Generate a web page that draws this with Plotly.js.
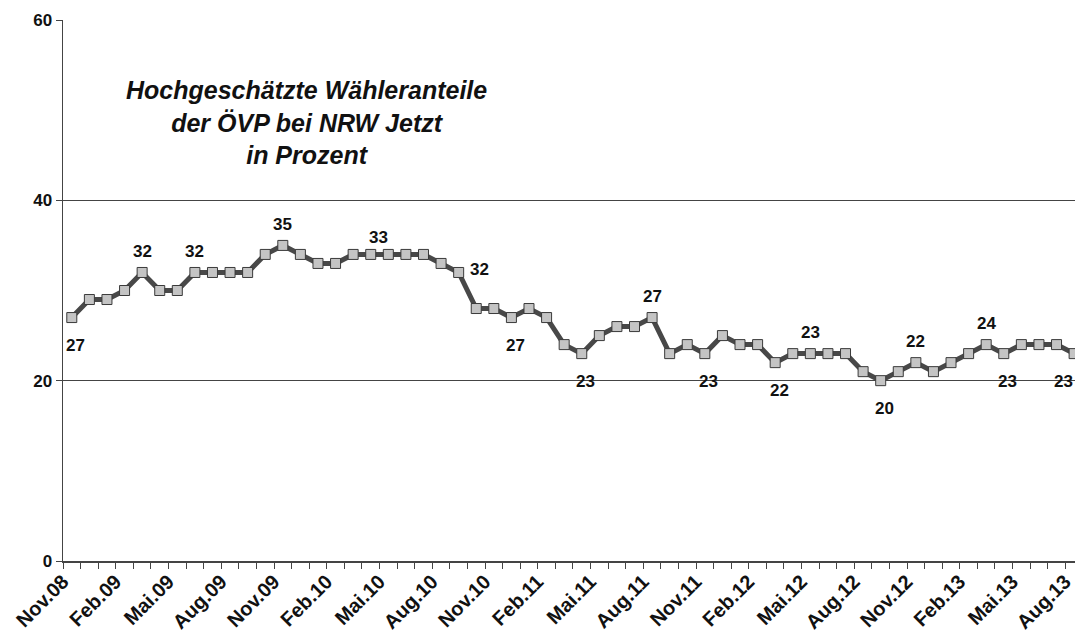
<!DOCTYPE html>
<html>
<head>
<meta charset="utf-8">
<script src="https://cdn.plot.ly/plotly-3.0.1.min.js"></script>
<style>
  html, body { margin: 0; padding: 0; background: #fff; }
  #chart { width: 1075px; height: 644px; }
</style>
</head>
<body>
<div id="chart"></div>
<script>
// monthly values, Nov.08 .. Aug.13
const shares = [27, 29, 29, 30, 32, 30, 30, 32, 32, 32, 32, 34, 35, 34, 33, 33, 34, 34, 34, 34,
                34, 33, 32, 28, 28, 27, 28, 27, 24, 23, 25, 26, 26, 27, 23, 24, 23, 25, 24, 24,
                22, 23, 23, 23, 23, 21, 20, 21, 22, 21, 22, 23, 24, 23, 24, 24, 24, 23];
const months = shares.map((v, i) => i);

// labels every third month
const tickLabels = ["Nov.08", "Feb.09", "Mai.09", "Aug.09", "Nov.09", "Feb.10", "Mai.10", "Aug.10",
                    "Nov.10", "Feb.11", "Mai.11", "Aug.11", "Nov.11", "Feb.12", "Mai.12", "Aug.12",
                    "Nov.12", "Feb.13", "Mai.13", "Aug.13"];
const tickPos = tickLabels.map((t, i) => i * 3);

// value labels written next to some points
const labelIdx  = [0, 4, 7, 12, 17, 22, 25, 29, 33, 36, 40, 42, 46, 48, 52, 53, 57];
const labelText = ["27", "32", "32", "35", "33", "32", "27", "23", "27", "23", "22", "23", "20", "22", "24", "23", "23"];
const labelSide = ["below", "above", "above", "above", "above", "right", "below", "below", "above",
                   "below", "below", "above", "below", "above", "above", "below", "below"];

const fam = "Liberation Sans, Arial, sans-serif";
const lblFont = {family: fam, size: 17, color: "#111", weight: 700};

const annotations = labelIdx.map((idx, k) => {
    const side = labelSide[k];
    let xshift = 0, yshift = 0;
    if (side === "above") yshift = 21;
    if (side === "below") { yshift = -28; xshift = 4; }
    if (side === "right") { xshift = 21; yshift = 3; }
    if (idx === 17) { xshift = 8; yshift = 17; }
    if (idx === 57) xshift = -11;
    return {
        x: idx, y: shares[idx], xref: "x", yref: "y",
        text: labelText[k], showarrow: false,
        xshift: xshift, yshift: yshift, font: lblFont
    };
});

annotations.push({
    xref: "paper", yref: "paper", x: 0.241, y: 0.9, xanchor: "center", yanchor: "top",
    text: "Hochgeschätzte Wähleranteile<br>der ÖVP bei NRW Jetzt<br>in Prozent",
    showarrow: false, align: "center",
    font: {family: fam, size: 25, color: "#111", weight: 700, style: "italic"}
});

const trace = {
    x: months,
    y: shares,
    type: "scatter",
    mode: "lines+markers",
    cliponaxis: false,
    line: {color: "#484848", width: 5},
    marker: {symbol: "square", size: 10, color: "#c4c4c4", line: {color: "#3a3a3a", width: 1}},
    hoverinfo: "skip"
};

// invisible helper trace so the label axis gets drawn
const labelTrace = {
    x: tickPos, y: tickPos.map(() => null), xaxis: "x2", yaxis: "y",
    type: "scatter", mode: "markers", hoverinfo: "skip", showlegend: false
};

const xRange = [-0.5, 57.05];

const layout = {
    width: 1075,
    height: 644,
    margin: {l: 63, r: 0, t: 20, b: 83},
    paper_bgcolor: "#fff",
    plot_bgcolor: "#fff",
    showlegend: false,
    xaxis: {
        range: xRange,
        tickmode: "linear",
        tick0: -0.5,
        dtick: 1,
        ticks: "outside",
        ticklen: 6,
        tickcolor: "#444",
        showticklabels: false,
        showgrid: false,
        zeroline: false,
        showline: true,
        linecolor: "#444",
        linewidth: 1.5
    },
    xaxis2: {
        overlaying: "x",
        anchor: "y",
        side: "bottom",
        range: xRange,
        tickvals: tickPos,
        ticktext: tickLabels,
        tickangle: -45,
        ticks: "",
        ticklabelshift: -9,
        ticklabelstandoff: 4,
        ticklabeloverflow: "allow",
        tickfont: {family: fam, size: 20, color: "#111", weight: 700},
        showgrid: false,
        zeroline: false,
        showline: false
    },
    yaxis: {
        range: [0, 60],
        tickvals: [0, 20, 40, 60],
        ticks: "outside",
        ticklen: 6,
        tickcolor: "#444",
        tickfont: {family: fam, size: 17, color: "#111", weight: 700},
        showgrid: true,
        gridcolor: "#444",
        gridwidth: 1,
        zeroline: false,
        showline: true,
        linecolor: "#444",
        linewidth: 1.5
    },
    annotations: annotations
};

Plotly.newPlot("chart", [trace, labelTrace], layout, {displayModeBar: false, staticPlot: true});
</script>
</body>
</html>
